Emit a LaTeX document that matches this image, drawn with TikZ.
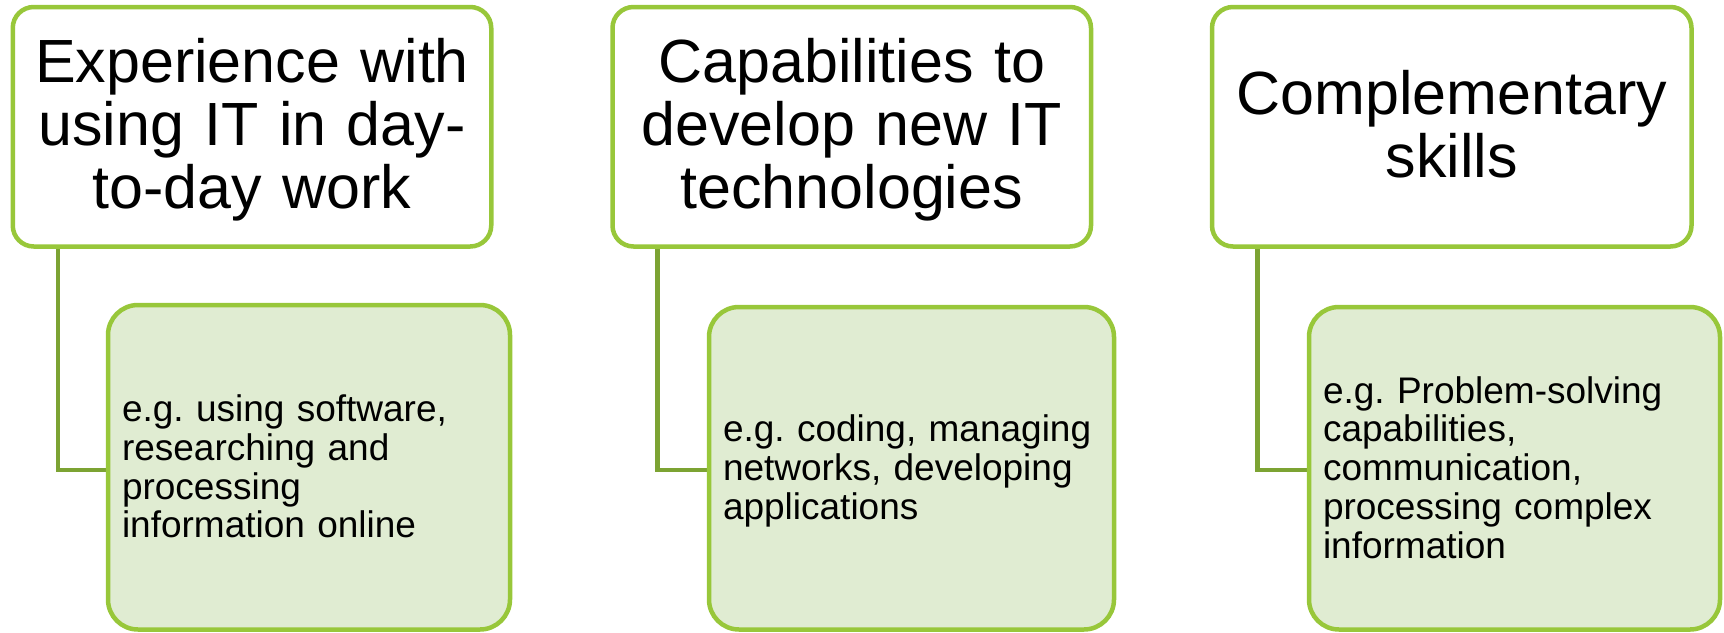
\documentclass[tikz,border=0pt]{standalone}
\usepackage{fontspec}
\setmainfont{Liberation Sans}
\usetikzlibrary{calc}
\frenchspacing
\definecolor{limeborder}{RGB}{152,199,58}
\definecolor{connline}{RGB}{124,163,51}
\definecolor{softfill}{RGB}{224,236,210}
\pgfdeclarelayer{bg}
\pgfsetlayers{bg,main}
\newcommand{\tstrut}{\rule{0pt}{51.4pt}}
\newcommand{\tdstrut}{\rule[-13pt]{0pt}{13pt}}
\newcommand{\bstrut}{\rule{0pt}{32.8pt}}
\newcommand{\bdstrut}{\rule[-8pt]{0pt}{8pt}}
\tikzset{
  topbox/.style={draw=limeborder, line width=4.5pt, fill=white, rounded corners=21pt,
    rectangle, inner sep=0pt, minimum height=239.5pt, text width=460pt, align=center,
    font=\fontsize{61pt}{63pt}\selectfont\frenchspacing},
  subbox/.style={draw=limeborder, line width=4.5pt, fill=softfill, rounded corners=30pt,
    rectangle, inner sep=0pt, align=left,
    font=\fontsize{37pt}{38.8pt}\selectfont\frenchspacing},
  conn/.style={draw=connline, line width=4.5pt}
}
\begin{document}
\begin{tikzpicture}[x=1pt,y=-1pt]
\useasboundingbox (0,0) rectangle (1724,632);
\node[topbox, minimum width=478.5pt] (T1) at (252,126.75)
  {\tstrut Experience with\\using IT in day-\\to-day work\tdstrut};
\node[topbox, minimum width=478.5pt] (T2) at (851.75,126.75)
  {\tstrut Capabilities to\\develop new IT\\technologies\tdstrut};
\node[topbox, minimum width=479.5pt] (T3) at (1451.75,126.75)
  {\tstrut Complementary\\skills\tdstrut};
\node[subbox, minimum width=402pt, minimum height=324.5pt, text width=374pt] (B1) at (309,467.25)
  {\bstrut e.g.\ using software,\\researching and\\processing\\information online\bdstrut};
\node[subbox, minimum width=405pt, minimum height=322.5pt, text width=377pt] (B2) at (911.5,468.25)
  {\bstrut e.g.\ coding, managing\\networks, developing\\applications\bdstrut};
\node[subbox, minimum width=411pt, minimum height=322.5pt, text width=383pt] (B3) at (1514.5,468.25)
  {\bstrut e.g.\ Problem-solving\\capabilities,\\communication,\\processing complex\\information\bdstrut};
\begin{pgfonlayer}{bg}
\draw[conn] ([xshift=47.5pt]T1.south west) |- ([yshift=-2.5pt]B1.west);
\draw[conn] ([xshift=47pt]T2.south west) |- ([yshift=-1.5pt]B2.west);
\draw[conn] ([xshift=47.5pt]T3.south west) |- ([yshift=-1.5pt]B3.west);
\end{pgfonlayer}
\end{tikzpicture}
\end{document}
